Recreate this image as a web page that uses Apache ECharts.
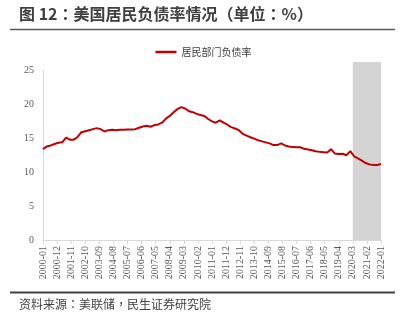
<!DOCTYPE html>
<html>
<head>
<meta charset="utf-8">
<script src="https://cdn.jsdelivr.net/npm/echarts@6/dist/echarts.min.js"></script>
<style>
  html, body { margin: 0; padding: 0; background: #fff; }
  #chart { width: 407px; height: 324px; }
</style>
</head>
<body>
<div id="chart"></div>
<script>
// Monthly categories 2000-01 … 2022-01
const months = [];
for (let y = 2000; y <= 2022; y++) {
  for (let m = 1; m <= 12; m++) {
    if (y === 2022 && m > 1) break;
    months.push(y + '-' + String(m).padStart(2, '0'));
  }
}

// Quarterly observations (Jan / Apr / Jul / Oct), household debt ratio, %
const quarterMonths = months.filter(function (m) {
  const mm = m.slice(5);
  return mm === '01' || mm === '04' || mm === '07' || mm === '10';
});
const debtRatio = [
  13.4, 13.8, 13.95, 14.15, 14.35, 14.4, 15.1, 14.8, 14.8, 15.2, 15.9, 16.05,
  16.2, 16.35, 16.5, 16.35, 16.0, 16.2, 16.25, 16.2, 16.25, 16.25, 16.3, 16.3,
  16.35, 16.55, 16.75, 16.85, 16.7, 16.95, 17.05, 17.3, 17.9, 18.3, 18.85, 19.3,
  19.6, 19.4, 19.0, 18.85, 18.6, 18.45, 18.3, 17.85, 17.5, 17.3, 17.65, 17.3,
  17.0, 16.65, 16.45, 16.2, 15.65, 15.4, 15.15, 14.95, 14.7, 14.55, 14.4, 14.25,
  14.0, 14.0, 14.25, 13.95, 13.8, 13.7, 13.68, 13.68, 13.45, 13.35, 13.25, 13.1,
  13.0, 12.95, 12.9, 13.4, 12.75, 12.7, 12.72, 12.5, 13.1, 12.35, 12.05, 11.7,
  11.35, 11.15, 11.08, 11.05, 11.2
];

// Shaded period
const shadeStart = '2020-03';
const shadeEnd = '2022-01';

const seriesName = '居民部门负债率';
const yTicks = { min: 0, max: 25, interval: 5 };

const lineData = quarterMonths.map(function (m, i) { return [m, debtRatio[i]]; });

const chart = echarts.init(document.getElementById('chart'), null, { renderer: 'canvas' });

const labelFont = "'Liberation Serif', 'Times New Roman', serif";
const cjkFont = "'Noto Sans CJK SC', sans-serif";
// TC locale centres full-width punctuation
const headFont = "'Noto Sans CJK TC', 'Noto Sans CJK SC', sans-serif";

chart.setOption({
  animation: false,
  backgroundColor: '#ffffff',
  legend: {
    data: [seriesName],
    top: 42,
    left: 'center',
    icon: 'rect',
    itemWidth: 21,
    itemHeight: 2.5,
    itemGap: 10,
    textStyle: { fontFamily: cjkFont, fontSize: 10, color: '#404040' }
  },
  grid: [
    { left: 43, right: 26, top: 70.5, bottom: 84, z: 2 },
    { left: 43, right: 26, top: 62, bottom: 84, z: 1 }
  ],
  xAxis: [
    {
      type: 'category',
      gridIndex: 0,
      data: months,
      boundaryGap: false,
      axisLine: { lineStyle: { color: '#d9d9d9', width: 1 } },
      axisTick: { show: true, interval: 10, length: 4, lineStyle: { color: '#d9d9d9' } },
      axisLabel: {
        interval: 10,
        rotate: 90,
        margin: 6,
        fontFamily: labelFont,
        fontSize: 10,
        color: '#595959'
      }
    },
    {
      type: 'category',
      gridIndex: 1,
      data: months,
      boundaryGap: false,
      show: false
    }
  ],
  yAxis: [
    {
      type: 'value',
      gridIndex: 0,
      min: yTicks.min,
      max: yTicks.max,
      interval: yTicks.interval,
      axisLine: { show: true, lineStyle: { color: '#d9d9d9', width: 1 } },
      axisTick: { show: false },
      splitLine: { show: false },
      axisLabel: { margin: 9, fontFamily: labelFont, fontSize: 10, color: '#595959' }
    },
    {
      type: 'value',
      gridIndex: 1,
      min: 0,
      max: 1,
      show: false
    }
  ],
  series: [
    {
      name: 'shade',
      type: 'line',
      xAxisIndex: 1,
      yAxisIndex: 1,
      data: [],
      z: 1,
      silent: true,
      markArea: {
        silent: true,
        itemStyle: { color: '#d4d4d4' },
        data: [[{ xAxis: shadeStart, yAxis: 0 }, { xAxis: shadeEnd, yAxis: 1 }]]
      }
    },
    {
      name: seriesName,
      type: 'line',
      xAxisIndex: 0,
      yAxisIndex: 0,
      data: lineData,
      showSymbol: false,
      symbol: 'none',
      z: 3,
      itemStyle: { color: '#c00000' },
      lineStyle: { color: '#c00000', width: 2 }
    }
  ],
  graphic: [
    {
      type: 'text',
      left: 19,
      top: 6,
      style: {
        text: '图 12：美国居民负债率情况（单位：%）',
        font: "bold 16px " + headFont,
        fill: '#404040'
      }
    },
    {
      type: 'line',
      shape: { x1: 10, y1: 29.5, x2: 395, y2: 29.5 },
      style: { stroke: '#595959', lineWidth: 1.5 }
    },
    {
      type: 'line',
      shape: { x1: 10, y1: 292.5, x2: 395, y2: 292.5 },
      style: { stroke: '#404040', lineWidth: 2 }
    },
    {
      type: 'text',
      left: 19,
      top: 298,
      style: {
        text: '资料来源：美联储，民生证券研究院',
        font: "12px " + headFont,
        fill: '#404040'
      }
    }
  ]
});
</script>
</body>
</html>
